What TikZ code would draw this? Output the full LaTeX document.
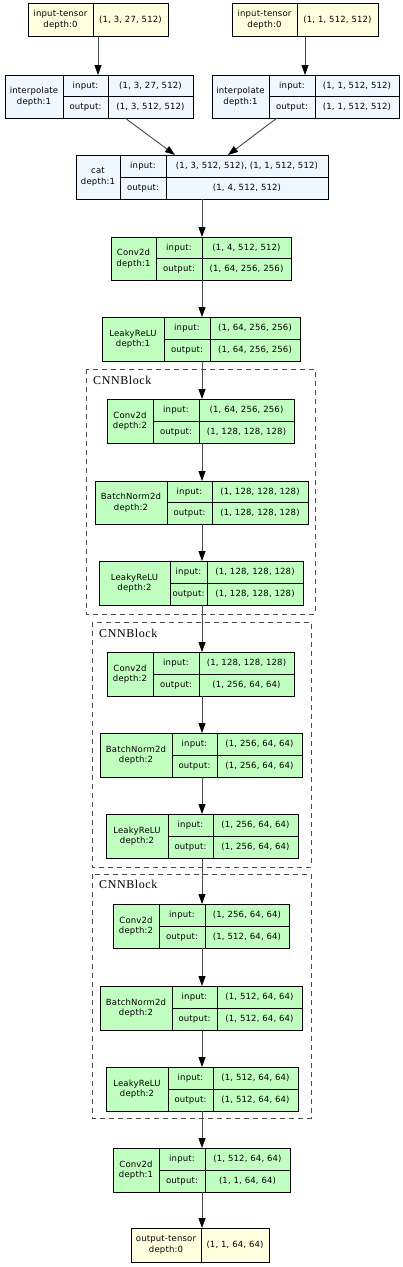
\documentclass[tikz,border=0pt]{standalone}
\usepackage{fontspec}
\setmainfont[LetterSpace=2]{DejaVu Sans}
\newfontfamily\serifblock[LetterSpace=5]{Liberation Serif}
\usetikzlibrary{arrows.meta,calc}
\definecolor{tensorfill}{HTML}{FFFFE0}
\definecolor{funcfill}{HTML}{F0F8FF}
\definecolor{modfill}{HTML}{C1FFC1}
\definecolor{edgecol}{HTML}{4A4A4A}
\tikzset{
  rec/.style={draw=black, line width=0.8pt, inner sep=0pt, outer sep=0pt},
  txt/.style={inner sep=0pt, font=\fontsize{8.5}{10.5}\selectfont, align=center},
  arr/.style={draw=edgecol, line width=0.9pt, -{Triangle[length=10pt,width=7pt,color=black]}},
  blockbox/.style={draw=edgecol, line width=0.8pt, dash pattern=on 5pt off 4pt},
  blocklabel/.style={font=\serifblock\fontsize{12}{14}\selectfont, anchor=base west, inner sep=0pt},
}
% name x1 y1 x2 y2 d1 d2 fill label
\newcommand\modrec[9]{%
  \node[rec, fill=#8, minimum width={(#4-#2)*1pt}, minimum height={(#5-#3)*1pt}] (#1) at ({(#2+#4)/2},{(#3+#5)/2}) {};
  \draw[line width=0.8pt] (#6,#3) -- (#6,#5) (#7,#3) -- (#7,#5) (#6,{(#3+#5)/2}) -- (#4,{(#3+#5)/2});
  \node[txt] (#1-lab) at ({(#2+#6)/2},{(#3+#5)/2}) {#9};
  \coordinate (#1-ia) at ({(#6+#7)/2},{(3*#3+#5)/4});
  \coordinate (#1-iv) at ({(#7+#4)/2},{(3*#3+#5)/4});
  \coordinate (#1-oa) at ({(#6+#7)/2},{(#3+3*#5)/4});
  \coordinate (#1-ov) at ({(#7+#4)/2},{(#3+3*#5)/4});
}
\newcommand\modio[3]{%
  \node[txt] (#1-tia) at (#1-ia) {input:};
  \node[txt] (#1-tiv) at (#1-iv) {#2};
  \node[txt] (#1-toa) at (#1-oa) {output:};
  \node[txt] (#1-tov) at (#1-ov) {#3};
}
% name x1 y1 x2 y2 d label value
\newcommand\tenrec[8]{%
  \node[rec, fill=tensorfill, minimum width={(#4-#2)*1pt}, minimum height={(#5-#3)*1pt}] (#1) at ({(#2+#4)/2},{(#3+#5)/2}) {};
  \draw[line width=0.8pt] (#6,#3) -- (#6,#5);
  \node[txt] (#1-lab) at ({(#2+#6)/2},{(#3+#5)/2}) {#7};
  \node[txt] (#1-val) at ({(#6+#4)/2},{(#3+#5)/2}) {#8};
}
\begin{document}
\begin{tikzpicture}[x=1pt,y=-1pt]
\useasboundingbox (0,0) rectangle (403,1267);
\fill[white] (0,0) rectangle (403,1267);
% dashed blocks
\draw[blockbox] (86,369) rectangle (315,614);
\node[blocklabel] (bl1) at (93,384) {CNNBlock};
\draw[blockbox] (92,622) rectangle (311,867);
\node[blocklabel] (bl2) at (99,637) {CNNBlock};
\draw[blockbox] (92,874) rectangle (311,1118);
\node[blocklabel] (bl3) at (99,888) {CNNBlock};
% nodes
\tenrec{in1}{28}{3}{168}{36}{93}{input-tensor\\depth:0}{(1, 3, 27, 512)}
\tenrec{in2}{232}{3}{378}{36}{297}{input-tensor\\depth:0}{(1, 1, 512, 512)}
\modrec{ip1}{5}{75}{193}{118}{63}{108}{funcfill}{interpolate\\depth:1}
\modio{ip1}{(1, 3, 27, 512)}{(1, 3, 512, 512)}
\modrec{ip2}{212}{75}{399}{118}{269}{315}{funcfill}{interpolate\\depth:1}
\modio{ip2}{(1, 1, 512, 512)}{(1, 1, 512, 512)}
\modrec{cat}{76}{155}{328}{199}{120}{166}{funcfill}{cat\\depth:1}
\modio{cat}{(1, 3, 512, 512), (1, 1, 512, 512)}{(1, 4, 512, 512)}
\modrec{cv1}{111}{237}{291}{280}{156}{202}{modfill}{Conv2d\\depth:1}
\modio{cv1}{(1, 4, 512, 512)}{(1, 64, 256, 256)}
\modrec{lr1}{102}{317}{300}{361}{164}{210}{modfill}{LeakyReLU\\depth:1}
\modio{lr1}{(1, 64, 256, 256)}{(1, 64, 256, 256)}
\modrec{acv}{107}{399}{294}{443}{153}{199}{modfill}{Conv2d\\depth:2}
\modio{acv}{(1, 64, 256, 256)}{(1, 128, 128, 128)}
\modrec{abn}{95}{481}{308}{524}{167}{212}{modfill}{BatchNorm2d\\depth:2}
\modio{abn}{(1, 128, 128, 128)}{(1, 128, 128, 128)}
\modrec{alr}{99}{561}{303}{605}{170}{207}{modfill}{LeakyReLU\\depth:2}
\modio{alr}{(1, 128, 128, 128)}{(1, 128, 128, 128)}
\modrec{bcv}{107}{652}{294}{696}{153}{199}{modfill}{Conv2d\\depth:2}
\modio{bcv}{(1, 128, 128, 128)}{(1, 256, 64, 64)}
\modrec{bbn}{100}{733}{302}{777}{172}{217}{modfill}{BatchNorm2d\\depth:2}
\modio{bbn}{(1, 256, 64, 64)}{(1, 256, 64, 64)}
\modrec{blr}{106}{814}{298}{858}{168}{213}{modfill}{LeakyReLU\\depth:2}
\modio{blr}{(1, 256, 64, 64)}{(1, 256, 64, 64)}
\modrec{ccv}{113}{904}{289}{948}{159}{205}{modfill}{Conv2d\\depth:2}
\modio{ccv}{(1, 256, 64, 64)}{(1, 512, 64, 64)}
\modrec{cbn}{100}{986}{302}{1030}{172}{217}{modfill}{BatchNorm2d\\depth:2}
\modio{cbn}{(1, 512, 64, 64)}{(1, 512, 64, 64)}
\modrec{clr}{106}{1067}{298}{1111}{168}{213}{modfill}{LeakyReLU\\depth:2}
\modio{clr}{(1, 512, 64, 64)}{(1, 512, 64, 64)}
\modrec{cv2}{113}{1148}{290}{1192}{159}{205}{modfill}{Conv2d\\depth:1}
\modio{cv2}{(1, 512, 64, 64)}{(1, 1, 64, 64)}
\tenrec{out}{131}{1228}{269}{1262}{201}{output-tensor\\depth:0}{(1, 1, 64, 64)}
% connectors
\coordinate (spine) at (202,0);
\draw[arr] (in1.south) -- (in1.south |- ip1.north);
\draw[arr] (in2.south) -- (in2.south |- ip2.north);
\draw[arr] ([xshift=26pt]ip1.south) -- ([xshift=99pt]cat.north west);
\draw[arr] ([xshift=-28.5pt]ip2.south) -- ([xshift=152pt]cat.north west);
\foreach \a/\b in {cat/cv1, cv1/lr1, lr1/acv, acv/abn, abn/alr, alr/bcv, bcv/bbn, bbn/blr, blr/ccv, ccv/cbn, cbn/clr, clr/cv2, cv2/out}
  \draw[arr] (\a.south -| spine) -- (\b.north -| spine);
\end{tikzpicture}
\end{document}
